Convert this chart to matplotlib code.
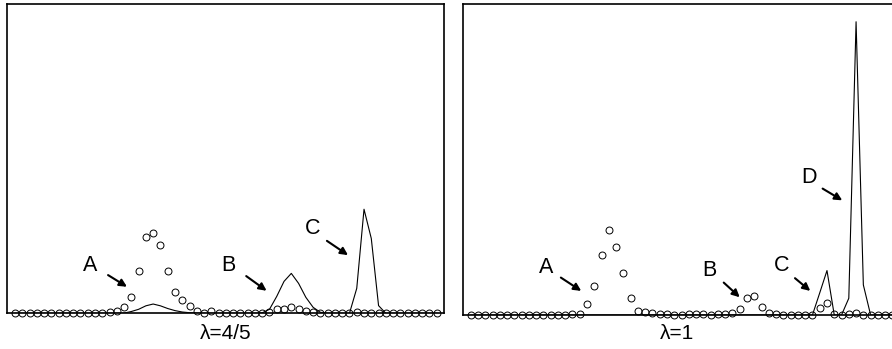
import numpy as np
import matplotlib
matplotlib.use('Agg')
import matplotlib.pyplot as plt

plt.rcParams['font.family'] = ['Liberation Sans', 'DejaVu Sans']

# sample index along the chain
n_pts = 59
idx = np.arange(n_pts)

# lambda = 4/5 : open circles and solid line (heights)
circ_45 = np.zeros(n_pts)
circ_45[13:28] = [1, 2, 6.7, 16.7, 42.7, 76, 80.7, 68.7, 42.7, 21.3, 13.3, 7.8, 2.8, 0.7, 2]
circ_45[28:35] = [0.5, 0.5, 0.5, 0.5, 0.5, 0.5, 0.5]
circ_45[35:42] = [1, 4, 4.2, 6.5, 4.5, 2.5, 1.3]
circ_45[47] = 1.3

line_45 = np.zeros(n_pts)
line_45[15:26] = [0.2, 1.8, 4, 7.5, 9.3, 7.5, 4.8, 2.7, 1.3, 0.6, 0.2]
line_45[34:43] = [0.5, 4, 17, 32, 40, 30, 16, 6, 1]
line_45[46:52] = [0, 25, 104.3, 75, 7.7, 0]

# lambda = 1
circ_1 = np.zeros(n_pts)
circ_1[14:43] = [0.7, 0.7, 10.7, 29.3, 60.3, 85, 68, 42.3, 17, 4.3, 2.7, 2.3, 1,
                 0.7, 0.3, 0.3, 0.7, 1.3, 0.7, 0.3, 0.7, 1, 2.3, 6.3, 16.7, 19,
                 7.7, 2, 0.7]
circ_1[48:55] = [7, 11.7, 1.3, 0, 0.7, 2.3, 0.3]

line_1 = np.zeros(n_pts)
line_1[47:56] = [0, 22, 44.3, 0, 0, 16.7, 292.3, 30, 0]

# label text position, arrow tail, arrow head (data units)
labels_45 = [('A', (10.3, 48.3), (12.8, 38.3), (15.4, 26.6)),
             ('B', (29.4, 48.3), (31.8, 37.3), (34.6, 22.6)),
             ('C', (40.9, 85.3), (42.9, 72.6), (45.8, 58.3))]
labels_1 = [('A', (10.4, 47.7), (12.4, 37.3), (15.2, 24)),
            ('B', (32.8, 44.3), (34.8, 32.3), (37.0, 17.7)),
            ('C', (42.7, 49), (44.6, 36.7), (46.7, 24)),
            ('D', (46.5, 136.7), (48.4, 126), (51.1, 114.3))]

W, H = 892, 349
fig = plt.figure(figsize=(W / 100, H / 100), dpi=100)
ax1 = fig.add_axes([7 / W, 35.7 / H, 437 / W, 309.3 / H])
ax2 = fig.add_axes([462.7 / W, 34 / H, 437 / W, 311 / H])


def draw_panel(ax, circ, line, labels):
    ax.plot(idx, line, color='k', lw=0.8)
    ax.plot(idx, circ, ls='none', marker='o', ms=5.0, mfc='none', mec='k',
            mew=0.7, clip_on=False, zorder=3)
    ax.set_xlim(-1.1, 59)
    ax.set_ylim(0, 310)
    ax.set_xticks([])
    ax.set_yticks([])
    for s in ax.spines.values():
        s.set_linewidth(1.2)
    for lab, txt, tail, head in labels:
        ax.text(txt[0], txt[1], lab, fontsize=15.5, ha='center', va='center')
        ax.annotate('', xy=head, xytext=tail,
                    arrowprops=dict(arrowstyle='-|>', color='k', lw=1.5,
                                    mutation_scale=11, shrinkA=0, shrinkB=0))


draw_panel(ax1, circ_45, line_45, labels_45)
draw_panel(ax2, circ_1, line_1, labels_1)

fig.text(225.5 / W, (H - 333.5) / H, 'λ=4/5', fontsize=15, ha='center', va='center')
fig.text(677 / W, (H - 333.5) / H, 'λ=1', fontsize=15, ha='center', va='center')

fig.savefig('out.png', dpi=100)
